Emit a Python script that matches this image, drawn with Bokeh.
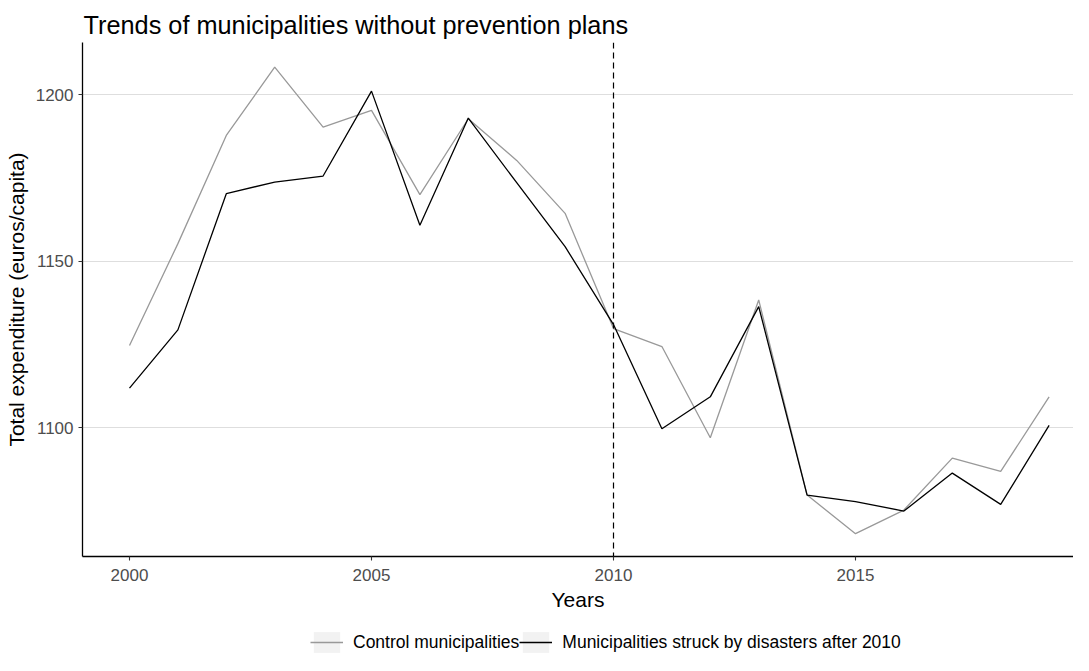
from bokeh.plotting import figure
from bokeh.layouts import column
from bokeh.models import Range1d, Span, Legend, LegendItem, FixedTicker
from bokeh.embed import file_html
from bokeh.resources import INLINE

years = list(range(2000, 2020))
control = [1124.7, 1155.3, 1187.8, 1208.3, 1190.3, 1195.3, 1170.0, 1192.8, 1180.3, 1164.4,
           1129.8, 1124.4, 1097.0, 1138.4, 1079.8, 1068.2, 1075.3, 1090.9, 1086.9, 1109.3]
struck = [1111.9, 1129.4, 1170.3, 1173.8, 1175.6, 1201.1, 1160.8, 1193.0, 1173.6, 1154.4,
          1131.0, 1099.7, 1109.3, 1136.4, 1079.8, 1077.8, 1075.0, 1086.4, 1077.0, 1100.7]
x_ticks = [2000, 2005, 2010, 2015]
y_ticks = [1100, 1150, 1200]
series_names = ["Control municipalities", "Municipalities struck by disasters after 2010"]
series_colors = ["#999999", "black"]
treatment_year = 2010

FONT = "Liberation Sans"

p = figure(width=1073, height=615, output_backend="svg", toolbar_location=None,
           x_range=Range1d(1999.029, 2019.504), y_range=Range1d(1061.35, 1215.7),
           min_border_left=82, min_border_top=42, min_border_right=0, min_border_bottom=59,
           title="Trends of municipalities without prevention plans")

p.title.text_font = FONT
p.title.text_font_size = "25.3px"
p.title.text_font_style = "normal"
p.title.text_color = "black"
p.title.offset = 1
p.title.standoff = 8

p.outline_line_color = None
p.xgrid.visible = False
p.ygrid.grid_line_color = "#dedede"
p.ygrid.grid_line_width = 1.2
p.ygrid.ticker = FixedTicker(ticks=y_ticks)

for ax in (p.xaxis[0], p.yaxis[0]):
    ax.axis_line_color = "black"
    ax.axis_line_width = 1.3
    ax.major_tick_line_color = "#333333"
    ax.major_tick_line_width = 1.1
    ax.major_tick_out = 4
    ax.major_tick_in = 0
    ax.minor_tick_line_color = None
    ax.major_label_text_font = FONT
    ax.major_label_text_font_size = "17px"
    ax.major_label_text_color = "#4d4d4d"
    ax.axis_label_text_font = FONT
    ax.axis_label_text_font_size = "21px"
    ax.axis_label_text_font_style = "normal"
    ax.axis_label_text_color = "black"

p.xaxis.ticker = FixedTicker(ticks=x_ticks)
p.yaxis.ticker = FixedTicker(ticks=y_ticks)
p.xaxis.axis_label = "Years"
p.yaxis.axis_label = "Total expenditure (euros/capita)"
p.xaxis.major_label_standoff = 8
p.xaxis.axis_label_standoff = 4
p.yaxis.major_label_standoff = 5
p.yaxis.axis_label_standoff = 5

vline = Span(location=treatment_year, dimension="height", line_color="black",
             line_width=1.2, line_dash="6 4")
p.add_layout(vline)

p.line(years, control, line_color=series_colors[0], line_width=1.3)
p.line(years, struck, line_color=series_colors[1], line_width=1.3)

# legend strip below the plot (its frame is aligned with the main frame)
lg = figure(width=1073, height=40, output_backend="svg", toolbar_location=None,
            x_range=Range1d(0, 1), y_range=Range1d(0, 1), min_border=0)
lg.axis.visible = False
lg.grid.visible = False
lg.outline_line_color = None

items = []
for name, col in zip(series_names, series_colors):
    # keys only: data sit outside the visible range of the strip
    box = lg.quad(left=[-10], right=[-9], top=[-9], bottom=[-10],
                  fill_color="#f2f2f2", line_color=None)
    ln = lg.line([-10, -9], [-10, -10], line_color=col, line_width=1.3)
    items.append(LegendItem(label=name, renderers=[box, ln]))

legend = Legend(items=items, orientation="horizontal", location=(228, 0))
legend.label_text_font = FONT
legend.label_text_font_size = "17.5px"
legend.label_text_color = "black"
legend.glyph_width = 33
legend.glyph_height = 26
legend.label_standoff = 10
legend.spacing = 0
legend.padding = 0
legend.margin = 0
legend.border_line_color = None
legend.background_fill_alpha = 0
lg.add_layout(legend, "center")

layout = column(p, lg, spacing=0)
open("out.html", "w").write(file_html(layout, INLINE))
